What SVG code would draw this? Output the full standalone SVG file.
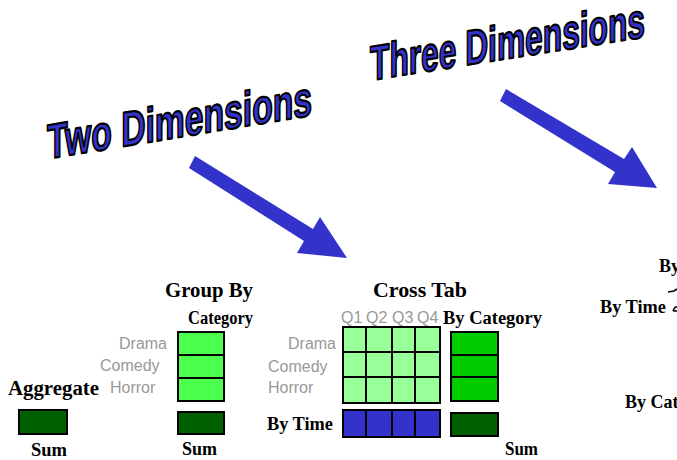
<svg xmlns="http://www.w3.org/2000/svg" width="677" height="460" viewBox="0 0 677 460">
<style>
.title{font-family:"Liberation Sans",Arial,sans-serif;font-weight:bold;font-size:49px;fill:#3333cc;stroke:#000;stroke-width:2.2px;stroke-linejoin:round}
.hd{font-family:"Liberation Serif","Times New Roman",serif;font-weight:bold;font-size:20px;fill:#000}
.lb{font-family:"Liberation Serif","Times New Roman",serif;font-weight:bold;font-size:18px;fill:#000}
.gr{font-family:"Liberation Sans",Arial,sans-serif;font-size:16px;fill:#999}
.cell{stroke:#000;stroke-width:2}
.dk{fill:#006000}
.lg{fill:#99ff99}
.bg{fill:#4cff4c}
.md{fill:#00cc00}
.bl{fill:#3333cc}
.arr{fill:#3333cc}
</style>
<g id="title-two"><text class="title" transform="skewY(-9.4)" x="47" y="166.8" textLength="265" lengthAdjust="spacingAndGlyphs">Two Dimensions</text></g>
<g id="title-three"><text class="title" transform="skewY(-9)" x="370" y="139" textLength="275" lengthAdjust="spacingAndGlyphs">Three Dimensions</text></g>
<g id="connectors">
<path class="arr" d="M195,156 L313,229 L320,217 L347,258 L297,253 L304,241 L189,168 Z"/>
<path class="arr" d="M506,89 L624,159 L632,147 L657,188 L608,184 L615,172 L500,101 Z"/>
</g>
<g id="aggregate">
<text class="hd" x="8" y="395" textLength="91" lengthAdjust="spacingAndGlyphs">Aggregate</text>
<rect class="cell dk" x="19" y="410" width="48" height="24"/>
<text class="lb" x="31" y="456" textLength="36" lengthAdjust="spacingAndGlyphs">Sum</text>
</g>
<g id="group-by">
<text class="hd" x="165" y="297" textLength="88" lengthAdjust="spacingAndGlyphs">Group By</text>
<text class="lb" x="188" y="324" textLength="65" lengthAdjust="spacingAndGlyphs">Category</text>
<text class="gr" x="119" y="349">Drama</text>
<text class="gr" x="100" y="371">Comedy</text>
<text class="gr" x="110" y="393">Horror</text>
<rect class="cell bg" x="178" y="332" width="46" height="23"/>
<rect class="cell bg" x="178" y="355" width="46" height="23"/>
<rect class="cell bg" x="178" y="378" width="46" height="23"/>
<rect class="cell dk" x="178" y="412" width="46" height="22"/>
<text class="lb" x="182" y="455" textLength="35" lengthAdjust="spacingAndGlyphs">Sum</text>
</g>
<g id="cross-tab">
<text class="hd" x="373" y="297" textLength="94" lengthAdjust="spacingAndGlyphs">Cross Tab</text>
<text class="gr" x="341" y="323">Q1</text>
<text class="gr" x="366" y="323">Q2</text>
<text class="gr" x="392" y="323">Q3</text>
<text class="gr" x="417" y="323">Q4</text>
<text class="lb" x="443" y="324" textLength="99" lengthAdjust="spacingAndGlyphs">By Category</text>
<text class="gr" x="288" y="349">Drama</text>
<text class="gr" x="268" y="372">Comedy</text>
<text class="gr" x="268" y="393">Horror</text>
<g class="cell lg">
<rect x="343" y="327" width="23" height="25"/><rect x="366" y="327" width="26" height="25"/><rect x="392" y="327" width="23" height="25"/><rect x="415" y="327" width="25" height="25"/>
<rect x="343" y="352" width="23" height="25"/><rect x="366" y="352" width="26" height="25"/><rect x="392" y="352" width="23" height="25"/><rect x="415" y="352" width="25" height="25"/>
<rect x="343" y="377" width="23" height="26"/><rect x="366" y="377" width="26" height="26"/><rect x="392" y="377" width="23" height="26"/><rect x="415" y="377" width="25" height="26"/>
</g>
<g class="cell bl">
<rect x="343" y="410" width="23" height="27"/><rect x="366" y="410" width="26" height="27"/><rect x="392" y="410" width="23" height="27"/><rect x="415" y="410" width="25" height="27"/>
</g>
<rect class="cell md" x="451" y="332" width="47" height="23"/>
<rect class="cell md" x="451" y="355" width="47" height="22"/>
<rect class="cell md" x="451" y="377" width="47" height="24"/>
<rect class="cell dk" x="451" y="413" width="47" height="23"/>
<text class="lb" x="267" y="430" textLength="66" lengthAdjust="spacingAndGlyphs">By Time</text>
<text class="lb" x="505" y="455" textLength="33" lengthAdjust="spacingAndGlyphs">Sum</text>
</g>
<g id="cube">
<text class="lb" x="659" y="272">By</text>
<path d="M668,292 L674,291 L677,289" fill="none" stroke="#000" stroke-width="1.6"/>
<text class="lb" x="600" y="313" textLength="66" lengthAdjust="spacingAndGlyphs">By Time</text>
<path d="M673,311 Q675,306 677,307 M673,311 L677,311" fill="none" stroke="#000" stroke-width="1.6"/>
<text class="lb" x="625" y="408">By Cat</text>
</g>
</svg>
